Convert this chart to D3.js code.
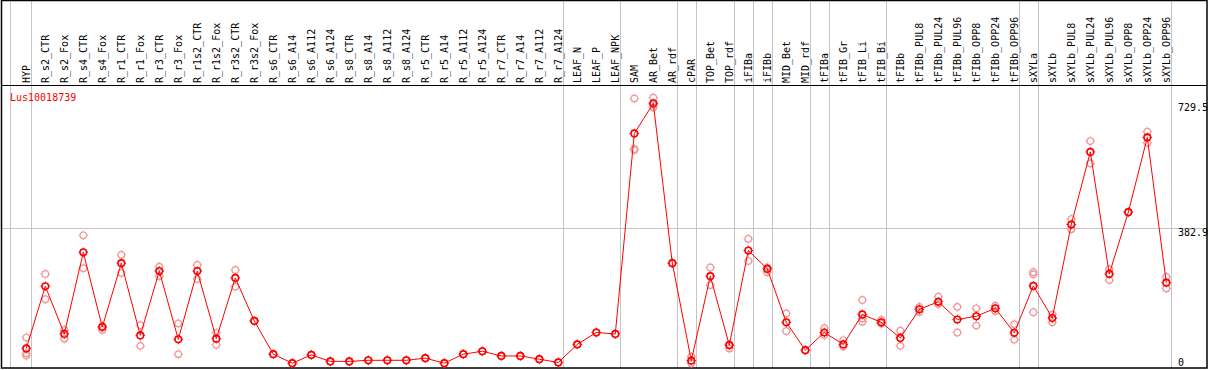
<!DOCTYPE html>
<html>
<head>
<meta charset="utf-8">
<script src="https://cdn.jsdelivr.net/npm/d3@7"></script>
<style>
  body { margin: 0; background: #fff; }
  text { font-family: "DejaVu Sans Mono", monospace; font-size: 10px; }
</style>
</head>
<body>
<div id="chart-area"></div>
<script>
/* data */
var geneName = "Lus10018739";

var categories = ["HYP", "R_s2_CTR", "R_s2_Fox", "R_s4_CTR", "R_s4_Fox", "R_r1_CTR", "R_r1_Fox",
  "R_r3_CTR", "R_r3_Fox", "R_r1s2_CTR", "R_r1s2_Fox", "R_r3s2_CTR", "R_r3s2_Fox",
  "R_s6_CTR", "R_s6_A14", "R_s6_A112", "R_s6_A124", "R_s8_CTR", "R_s8_A14", "R_s8_A112", "R_s8_A124",
  "R_r5_CTR", "R_r5_A14", "R_r5_A112", "R_r5_A124", "R_r7_CTR", "R_r7_A14", "R_r7_A112", "R_r7_A124",
  "LEAF_N", "LEAF_P", "LEAF_NPK", "SAM", "AR_Bet", "AR_rdf", "cPAR", "TOP_Bet", "TOP_rdf",
  "iFIBa", "iFIBb", "MID_Bet", "MID_rdf", "tFIBa", "tFIB_Gr", "tFIB_Li", "tFIB_Bi", "tFIBb",
  "tFIBb_PUL8", "tFIBb_PUL24", "tFIBb_PUL96", "tFIBb_OPP8", "tFIBb_OPP24", "tFIBb_OPP96",
  "sXYLa", "sXYLb", "sXYLb_PUL8", "sXYLb_PUL24", "sXYLb_PUL96", "sXYLb_OPP8", "sXYLb_OPP24", "sXYLb_OPP96"];

// mean expression per sample
var means = [51, 223, 91, 317, 110, 287, 87, 265, 76, 265, 78, 246, 127,
  35, 10, 33, 15, 15, 18, 18, 18, 24, 10, 35, 43, 30, 30, 21, 12,
  62, 95, 91, 646, 729.5, 287, 17, 251, 60, 322, 271, 123, 46, 95, 62, 145, 123, 80,
  159, 180, 131, 140, 162, 94, 224, 135, 394, 595, 257, 428, 635, 233];

// single replicates (drawn faded)
var replicates = [[81, 37, 31], [257, 187], [102, 78], [364, 273], [113, 102], [310, 260], [115, 58],
  [277, 251], [120, 35], [282, 243], [94, 61], [268, 222], [127],
  [35], [10], [33], [15], [15], [18], [18], [18], [24], [10], [35], [43], [30], [30], [21], [12],
  [62], [95], [91], [743, 603, 600], [745, 718, 725], [287], [28, 10], [275, 226], [51, 62],
  [354, 293], [275, 262], [148, 99], [46], [107, 88], [74, 56], [185, 125, 134], [130, 120], [100, 58],
  [166, 152], [194, 174], [166, 95], [162, 114], [169, 154], [118, 75], [262, 256, 151], [145, 123],
  [409, 381], [625, 563], [270, 240], [428], [651, 620], [249, 217]];

// vertical separators are drawn after these samples
var groupEnds = ["HYP", "R_r7_A124", "LEAF_NPK", "AR_rdf", "cPAR", "TOP_rdf", "iFIBa", "iFIBb",
  "MID_rdf", "tFIBa", "tFIB_Bi", "tFIBb_OPP96", "sXYLa", "sXYLb_OPP96"];

var yTicks = [0, 382.9, 729.5];

/* dimensions */
var W = 1209, H = 370;
var headerBottom = 85, plotBottom = 368, frameRight = 1207;

var svg = d3.select("#chart-area").append("svg")
  .attr("width", W)
  .attr("height", H);

var x = d3.scalePoint()
  .domain(categories)
  .range([26.3, 1166.3]);

var y = d3.scaleLinear()
  .domain([0, 729.5])
  .range([366.8, 103.3]);

/* grid */
var sepX = [x(categories[0]) - 16].concat(groupEnds.map(function(c) { return x(c) + 4.4; }));
svg.selectAll(".vgrid")
  .data(sepX)
  .enter().append("line")
    .attr("x1", function(d) { return Math.round(d) + 0.5; })
    .attr("x2", function(d) { return Math.round(d) + 0.5; })
    .attr("y1", 0)
    .attr("y2", plotBottom)
    .attr("stroke", "#c4c4c4");

svg.selectAll(".hgrid")
  .data(yTicks.filter(function(d) { return d > 0 && d < 729.5; }))
  .enter().append("line")
    .attr("x1", 1)
    .attr("x2", frameRight)
    .attr("y1", function(d) { return Math.round(y(d)) + 0.5; })
    .attr("y2", function(d) { return Math.round(y(d)) + 0.5; })
    .attr("stroke", "#c4c4c4");

/* frame */
svg.append("rect")
  .attr("x", 1.5).attr("y", 0.5)
  .attr("width", frameRight - 1.5).attr("height", plotBottom - 0.5)
  .attr("fill", "none").attr("stroke", "#000").attr("stroke-width", 1.5);
svg.append("line")
  .attr("x1", 1).attr("x2", frameRight)
  .attr("y1", headerBottom + 0.5).attr("y2", headerBottom + 0.5)
  .attr("stroke", "#000");

/* column labels */
svg.selectAll(".clabel")
  .data(categories)
  .enter().append("text")
    .attr("transform", function(d) { return "translate(" + (x(d) + 4) + "," + 83 + ") rotate(-90)"; })
    .attr("text-anchor", "start")
    .attr("fill", "#000")
    .text(function(d) { return d; });

/* y labels */
svg.selectAll(".ylabel")
  .data(yTicks)
  .enter().append("text")
    .attr("x", 1178)
    .attr("y", function(d) { return Math.min(y(d) + 7.5, 365.5); })
    .attr("fill", "#000")
    .text(function(d) { return d; });

svg.append("text")
  .attr("x", 10).attr("y", 101)
  .attr("fill", "#ff0000")
  .text(geneName);

/* markers */
function marker(sel, r, color, sw) {
  sel.append("circle")
    .attr("r", r)
    .attr("fill", "none")
    .attr("stroke", color)
    .attr("stroke-width", sw);
  sel.append("path")
    .attr("d", "M0," + (-r - 1.5) + "V" + (-r) + "M0," + r + "V" + (r + 1.5) +
               "M" + (-r - 1.5) + ",0H" + (-r) + "M" + r + ",0H" + (r + 1.5))
    .attr("stroke", color)
    .attr("stroke-width", 1);
}

var reps = [];
replicates.forEach(function(arr, i) {
  arr.forEach(function(v) { reps.push({ c: categories[i], v: v }); });
});

svg.selectAll(".rep")
  .data(reps)
  .enter().append("g")
    .attr("transform", function(d) { return "translate(" + x(d.c) + "," + y(d.v) + ")"; })
    .call(marker, 3.3, "#ee9a9a", 1.2);

var line = d3.line()
  .x(function(d, i) { return x(categories[i]); })
  .y(function(d) { return y(d); });

svg.append("path")
  .datum(means)
  .attr("d", line)
  .attr("fill", "none")
  .attr("stroke", "#ff0000")
  .attr("stroke-width", 1);

svg.selectAll(".mean")
  .data(means)
  .enter().append("g")
    .attr("transform", function(d, i) { return "translate(" + x(categories[i]) + "," + y(d) + ")"; })
    .call(marker, 3.3, "#ff0000", 1.6);
</script>
</body>
</html>
